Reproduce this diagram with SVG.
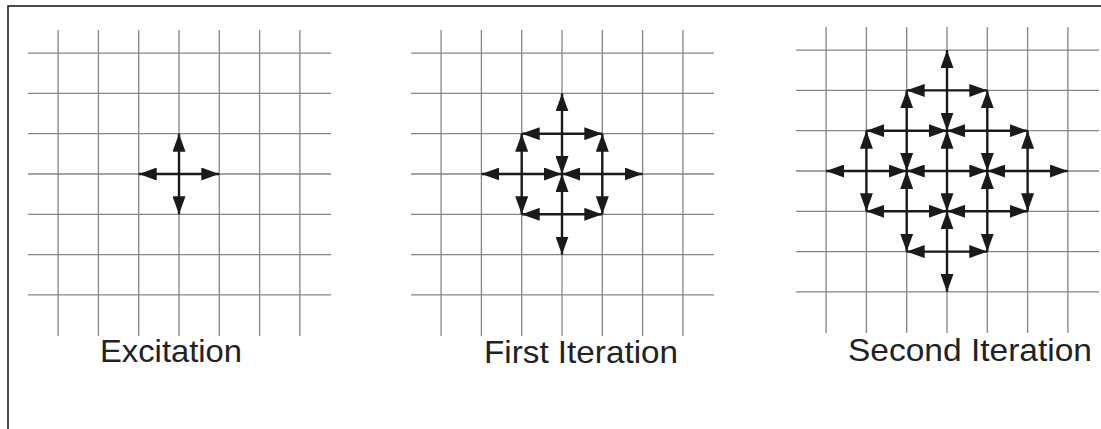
<svg xmlns="http://www.w3.org/2000/svg" xmlns:xlink="http://www.w3.org/1999/xlink" width="1101" height="429" viewBox="0 0 1101 429">
  <style>
    .grid line { stroke: #858585; stroke-width: 1.3; }
    .arrow { stroke: #1a1a1a; stroke-width: 2.4; fill: none; marker-end: url(#head); }
    .label { font-family: "Liberation Sans", Arial, sans-serif; font-size: 32px; fill: #222; }
  </style>
  <defs>
    <marker id="head" viewBox="0 0 18 13" refX="18" refY="6.5" markerWidth="18" markerHeight="13" markerUnits="userSpaceOnUse" orient="auto">
      <path d="M0,0 L18,6.5 L0,13 z" fill="#1a1a1a"/>
    </marker>
    <!-- 7x7 mesh centred on the origin, 40.3 px per cell -->
    <g id="mesh" class="grid">
      <line x1="-120.9" y1="-144" x2="-120.9" y2="162"/>
      <line x1="-80.6" y1="-144" x2="-80.6" y2="162"/>
      <line x1="-40.3" y1="-144" x2="-40.3" y2="162"/>
      <line x1="0" y1="-144" x2="0" y2="162"/>
      <line x1="40.3" y1="-144" x2="40.3" y2="162"/>
      <line x1="80.6" y1="-144" x2="80.6" y2="162"/>
      <line x1="120.9" y1="-144" x2="120.9" y2="162"/>
      <line x1="-151" y1="-120.9" x2="152" y2="-120.9"/>
      <line x1="-151" y1="-80.6" x2="152" y2="-80.6"/>
      <line x1="-151" y1="-40.3" x2="152" y2="-40.3"/>
      <line x1="-151" y1="0" x2="152" y2="0"/>
      <line x1="-151" y1="40.3" x2="152" y2="40.3"/>
      <line x1="-151" y1="80.6" x2="152" y2="80.6"/>
      <line x1="-151" y1="120.9" x2="152" y2="120.9"/>
    </g>
  </defs>

  <rect width="1101" height="429" fill="#fff"/>
  <!-- frame (only top and left edges fall inside the canvas) -->
  <rect x="8" y="6" width="1110" height="440" fill="none" stroke="#222" stroke-width="1.6"/>

  <g id="excitation">
    <use xlink:href="#mesh" href="#mesh" transform="translate(179,174)"/>
    <text class="label" x="100" y="362" textLength="142" lengthAdjust="spacingAndGlyphs">Excitation</text>
  </g>

  <g id="first-iteration">
    <use xlink:href="#mesh" href="#mesh" transform="translate(562,174)"/>
    <text class="label" x="484" y="363" textLength="194" lengthAdjust="spacingAndGlyphs">First Iteration</text>
  </g>

  <g id="second-iteration">
    <use xlink:href="#mesh" href="#mesh" transform="translate(947,171)"/>
    <text class="label" x="848" y="361" textLength="244" lengthAdjust="spacingAndGlyphs">Second Iteration</text>
  </g>

  <g id="connectors">
    <!-- excitation: single source -->
    <g transform="translate(179,174)">
      <line class="arrow" x1="0" y1="0" x2="0" y2="-40.3"/>
      <line class="arrow" x1="0" y1="0" x2="0" y2="40.3"/>
      <line class="arrow" x1="0" y1="0" x2="-40.3" y2="0"/>
      <line class="arrow" x1="0" y1="0" x2="40.3" y2="0"/>
    </g>
    <!-- first iteration: four neighbours scatter -->
    <g transform="translate(562,174)">
      <!-- north -->
      <line class="arrow" x1="0" y1="-40.3" x2="0" y2="-80.6"/>
      <line class="arrow" x1="0" y1="-40.3" x2="0" y2="0"/>
      <line class="arrow" x1="0" y1="-40.3" x2="-40.3" y2="-40.3"/>
      <line class="arrow" x1="0" y1="-40.3" x2="40.3" y2="-40.3"/>
      <!-- south -->
      <line class="arrow" x1="0" y1="40.3" x2="0" y2="0"/>
      <line class="arrow" x1="0" y1="40.3" x2="0" y2="80.6"/>
      <line class="arrow" x1="0" y1="40.3" x2="-40.3" y2="40.3"/>
      <line class="arrow" x1="0" y1="40.3" x2="40.3" y2="40.3"/>
      <!-- west -->
      <line class="arrow" x1="-40.3" y1="0" x2="-40.3" y2="-40.3"/>
      <line class="arrow" x1="-40.3" y1="0" x2="-40.3" y2="40.3"/>
      <line class="arrow" x1="-40.3" y1="0" x2="-80.6" y2="0"/>
      <line class="arrow" x1="-40.3" y1="0" x2="0" y2="0"/>
      <!-- east -->
      <line class="arrow" x1="40.3" y1="0" x2="40.3" y2="-40.3"/>
      <line class="arrow" x1="40.3" y1="0" x2="40.3" y2="40.3"/>
      <line class="arrow" x1="40.3" y1="0" x2="0" y2="0"/>
      <line class="arrow" x1="40.3" y1="0" x2="80.6" y2="0"/>
    </g>
    <!-- second iteration: nine sources scatter -->
    <g transform="translate(947,171)">
      <!-- centre -->
      <line class="arrow" x1="0" y1="0" x2="0" y2="-40.3"/>
      <line class="arrow" x1="0" y1="0" x2="0" y2="40.3"/>
      <line class="arrow" x1="0" y1="0" x2="-40.3" y2="0"/>
      <line class="arrow" x1="0" y1="0" x2="40.3" y2="0"/>
      <!-- (0,-2) -->
      <line class="arrow" x1="0" y1="-80.6" x2="0" y2="-120.9"/>
      <line class="arrow" x1="0" y1="-80.6" x2="0" y2="-40.3"/>
      <line class="arrow" x1="0" y1="-80.6" x2="-40.3" y2="-80.6"/>
      <line class="arrow" x1="0" y1="-80.6" x2="40.3" y2="-80.6"/>
      <!-- (0,2) -->
      <line class="arrow" x1="0" y1="80.6" x2="0" y2="40.3"/>
      <line class="arrow" x1="0" y1="80.6" x2="0" y2="120.9"/>
      <line class="arrow" x1="0" y1="80.6" x2="-40.3" y2="80.6"/>
      <line class="arrow" x1="0" y1="80.6" x2="40.3" y2="80.6"/>
      <!-- (-2,0) -->
      <line class="arrow" x1="-80.6" y1="0" x2="-80.6" y2="-40.3"/>
      <line class="arrow" x1="-80.6" y1="0" x2="-80.6" y2="40.3"/>
      <line class="arrow" x1="-80.6" y1="0" x2="-120.9" y2="0"/>
      <line class="arrow" x1="-80.6" y1="0" x2="-40.3" y2="0"/>
      <!-- (2,0) -->
      <line class="arrow" x1="80.6" y1="0" x2="80.6" y2="-40.3"/>
      <line class="arrow" x1="80.6" y1="0" x2="80.6" y2="40.3"/>
      <line class="arrow" x1="80.6" y1="0" x2="40.3" y2="0"/>
      <line class="arrow" x1="80.6" y1="0" x2="120.9" y2="0"/>
      <!-- (-1,-1) -->
      <line class="arrow" x1="-40.3" y1="-40.3" x2="-40.3" y2="-80.6"/>
      <line class="arrow" x1="-40.3" y1="-40.3" x2="-40.3" y2="0"/>
      <line class="arrow" x1="-40.3" y1="-40.3" x2="-80.6" y2="-40.3"/>
      <line class="arrow" x1="-40.3" y1="-40.3" x2="0" y2="-40.3"/>
      <!-- (1,-1) -->
      <line class="arrow" x1="40.3" y1="-40.3" x2="40.3" y2="-80.6"/>
      <line class="arrow" x1="40.3" y1="-40.3" x2="40.3" y2="0"/>
      <line class="arrow" x1="40.3" y1="-40.3" x2="0" y2="-40.3"/>
      <line class="arrow" x1="40.3" y1="-40.3" x2="80.6" y2="-40.3"/>
      <!-- (-1,1) -->
      <line class="arrow" x1="-40.3" y1="40.3" x2="-40.3" y2="0"/>
      <line class="arrow" x1="-40.3" y1="40.3" x2="-40.3" y2="80.6"/>
      <line class="arrow" x1="-40.3" y1="40.3" x2="-80.6" y2="40.3"/>
      <line class="arrow" x1="-40.3" y1="40.3" x2="0" y2="40.3"/>
      <!-- (1,1) -->
      <line class="arrow" x1="40.3" y1="40.3" x2="40.3" y2="0"/>
      <line class="arrow" x1="40.3" y1="40.3" x2="40.3" y2="80.6"/>
      <line class="arrow" x1="40.3" y1="40.3" x2="0" y2="40.3"/>
      <line class="arrow" x1="40.3" y1="40.3" x2="80.6" y2="40.3"/>
    </g>
  </g>
</svg>
